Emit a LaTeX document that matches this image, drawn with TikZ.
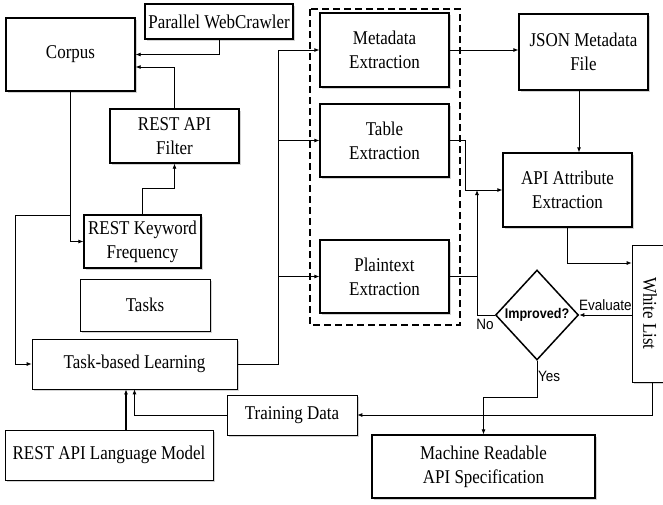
\documentclass[tikz,border=0pt]{standalone}
\usepackage{fontspec}
\setmainfont{Liberation Serif}[FakeStretch=0.87]
\newfontfamily\labelfont{Liberation Sans}[FakeStretch=0.9]
\usetikzlibrary{%
        arrows.meta,%
        shapes.geometric,%
        shadows%
    }

\begin{document}
\begin{tikzpicture}[x=1pt,y=-1pt,
    box/.style={draw,line width=1.3pt,fill=white,align=center,inner sep=2pt,
      font=\fontsize{19.5}{24}\selectfont,
      drop shadow={shadow xshift=1.5pt,shadow yshift=-1.5pt,opacity=0.35}},
    thinbox/.style={box,line width=0.7pt},
    decision/.style={draw,diamond,line width=1.5pt,fill=white,inner sep=0pt,
      minimum width=83pt,minimum height=90pt},
    arrow/.style={-{Latex[length=5pt,width=4pt]},line width=0.8pt},
    line/.style={line width=0.8pt},
    tag/.style={font=\labelfont\fontsize{15}{17}\selectfont,inner sep=1pt}]
      \useasboundingbox (0,0) rectangle (663,504);

      \draw[line width=1.6pt,dash pattern=on 7pt off 4pt] (310,9) rectangle (460,325);% extraction group

      % left column
      \node[box,minimum width=129pt,minimum height=73pt] (corpus) at (70.5,54.5) {Corpus};
      \node[box,minimum width=148pt,minimum height=35pt] (crawler) at (219,21.5) {Parallel WebCrawler};
      \node[box,minimum width=129pt,minimum height=54pt] (filter) at (174.5,136) {REST API\\Filter};
      \node[box,minimum width=117pt,minimum height=53pt] (keyword) at (142.5,241.5) {REST Keyword\\Frequency};
      \node[thinbox,minimum width=130pt,minimum height=52pt] (tasks) at (145,305) {Tasks};
      \node[thinbox,minimum width=205pt,minimum height=50pt] (learning) at (134.5,364) {Task-based Learning};
      \node[thinbox,minimum width=208pt,minimum height=50pt] (langmodel) at (109,455) {REST API Language Model};
      \node[thinbox,minimum width=130pt,minimum height=40pt] (training) at (292,415) {Training Data};

      % extraction
      \node[box,minimum width=129pt,minimum height=74pt] (metadata) at (384.5,50) {Metadata\\Extraction};
      \node[box,minimum width=129pt,minimum height=73pt] (table) at (384.5,140.5) {Table\\Extraction};
      \node[box,minimum width=129pt,minimum height=73pt] (plaintext) at (384.5,276.5) {Plaintext\\Extraction};

      % right column
      \node[box,minimum width=129pt,minimum height=76pt] (json) at (583.5,52) {JSON Metadata\\File};
      \node[box,minimum width=129pt,minimum height=74pt] (attr) at (567.5,190) {API Attribute\\Extraction};
      \node[thinbox,minimum width=40pt,minimum height=137pt] (whitelist) at (652,313.5) {};
      \node[font=\fontsize{19.5}{20}\selectfont,rotate=-90] (wltext) at ([xshift=-2pt]whitelist) {White List};
      \node[decision,label={center:\labelfont\bfseries\fontsize{14}{15}\selectfont Improved?}] (improved) at (537,315) {};
      \node[box,minimum width=223pt,minimum height=63pt] (machine) at (483.5,466.5) {Machine Readable\\API Specification};

      % corpus side
      \draw[arrow] (crawler.south) |- (corpus.east);
      \draw[arrow] (filter.north) |- (corpus.east |- 0,67);
      \draw[arrow] (corpus.south) |- (keyword.west);
      \draw[line] (corpus.south |- 0,215) -- (15,215);
      \draw[arrow] (15,215) |- (learning.west);
      \draw[arrow] (keyword.north) |- (filter.south |- 0,188) -- (filter.south);
      \draw[arrow,line width=1.6pt] (langmodel.north -| 126,0) -- (learning.south -| 126,0);
      \draw[arrow] (training.west) -| (learning.south);

      % to the extractors
      \draw[line] (learning.east) -| (278,50);
      \draw[arrow] (278,0 |- metadata.west) -- (metadata.west);
      \draw[arrow] (278,0 |- table.west) -- (table.west);
      \draw[arrow] (278,0 |- plaintext.west) -- (plaintext.west);

      % right side
      \draw[arrow] (metadata.east) -- (json.west |- metadata.east);
      \draw[arrow] (json.south -| 579,0) -- (attr.north -| 579,0);
      \draw[arrow] (table.east) -- ++(16,0) |- (attr.west);
      \draw[line] (plaintext.east) -- (477,0 |- plaintext.east);
      \draw[arrow] (improved.west) -| (attr.west -| 477,0);
      \draw[arrow] (attr.south) |- (whitelist.west |- 0,263);
      \draw[arrow] (whitelist.west |- improved.east) -- (improved.east)
        node[tag,midway,above,yshift=3pt] (evaluate) {Evaluate};
      \draw[arrow] (improved.south) -- ++(0,37) -| (machine.north);
      \draw[arrow] (whitelist.south) |- (training.east);

      %labels
      \node[tag,below left,yshift=-3pt] (nolabel) at (improved.west) {No};
      \node[tag,right] (yeslabel) at ([yshift=-16pt]improved.south) {Yes};
    \end{tikzpicture}
\end{document}
